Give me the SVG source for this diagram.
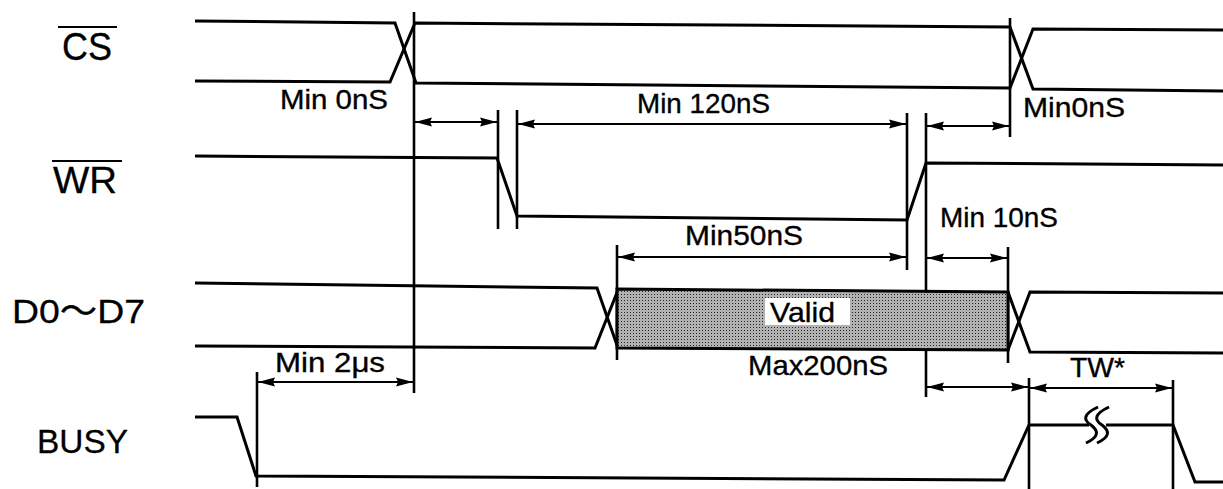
<svg xmlns="http://www.w3.org/2000/svg" width="1223" height="489" viewBox="0 0 1223 489">
<style>
.sig{fill:none;stroke:#000;stroke-width:3;stroke-linejoin:miter}
.vl{stroke:#000;stroke-width:2.6}
.dim{stroke:#000;stroke-width:2.2;marker-start:url(#ah);marker-end:url(#ah)}
.lab{font-family:"Liberation Sans","Noto Sans CJK JP",sans-serif;fill:#000;stroke:#000;stroke-width:0.3}
.t{font-family:"Liberation Sans",Arial,sans-serif;font-size:28px;fill:#000;stroke:#000;stroke-width:0.35}
.ov{stroke:#000;stroke-width:2.2}
</style>
<defs>
<marker id="ah" markerUnits="userSpaceOnUse" markerWidth="18" markerHeight="11" refX="17" refY="5" orient="auto-start-reverse" viewBox="0 0 18 10">
<path d="M0,0.5 L17,5 L0,9.5 L2,5 z" fill="#000"/>
</marker>
<pattern id="dots" patternUnits="userSpaceOnUse" width="3" height="3">
<rect width="3" height="3" fill="#e0e0e0"/>
<rect x="0" y="0" width="1" height="1" fill="#222"/>
<rect x="1.5" y="1.5" width="1" height="1" fill="#222"/>
<rect x="1.5" y="0" width="1" height="1" fill="#888"/>
<rect x="0" y="1.5" width="1" height="1" fill="#888"/>
</pattern>
</defs>
<rect width="1223" height="489" fill="#fff"/>

<g id="label-cs">
<text class="lab" x="62" y="60" font-size="38" textLength="50" lengthAdjust="spacingAndGlyphs">CS</text>
<line class="ov" x1="58" y1="27" x2="117" y2="27"/>
</g>
<g id="label-wr">
<text class="lab" x="53" y="193" font-size="37" textLength="64" lengthAdjust="spacingAndGlyphs">WR</text>
<line class="ov" x1="52" y1="161" x2="122" y2="161"/>
</g>
<g id="label-d">
<text class="lab" x="12" y="323" font-size="34" textLength="133" lengthAdjust="spacingAndGlyphs">D0〜D7</text>
</g>
<g id="label-busy">
<text class="lab" x="37" y="453" font-size="34" textLength="91" lengthAdjust="spacingAndGlyphs">BUSY</text>
</g>

<g id="sig-cs">
<polyline class="sig" points="195,21 395,23 416,83 1010,88 1033,29 1223,30"/>
<polyline class="sig" points="195,81 390,82 415,23 1010,27 1033,89 1223,91"/>
</g>
<g id="sig-wr">
<polyline class="sig" points="195,156 497,158 517,216 907,220 926,163 1223,165"/>
</g>
<g id="sig-d">
<polyline class="sig" points="195,283 597,288 618,348"/>
<polyline class="sig" points="195,346 595,348 618,290"/>
<polyline class="sig" points="1008,292 1030,352 1223,353"/>
<polyline class="sig" points="1008,350 1030,292 1223,293"/>
</g>
<g id="sig-busy">
<polyline class="sig" points="195,417 237,417 256,476 1004,480 1029,425 1089,425"/>
<polyline class="sig" points="1106,425 1173,425 1195,482 1223,482"/>
<path class="sig" stroke-width="2.6" d="M1098,407 C1083,414 1083,420 1091,425 C1099,431 1099,437 1086,443"/>
<path class="sig" stroke-width="2.6" d="M1109,407 C1094,414 1094,420 1102,425 C1110,431 1110,437 1097,443"/>
</g>

<g id="vertical-markers">
<line class="vl" x1="414" y1="12" x2="414" y2="393"/>
<line class="vl" x1="498" y1="110" x2="498" y2="229"/>
<line class="vl" x1="517" y1="110" x2="517" y2="229"/>
<line class="vl" x1="907" y1="113" x2="907" y2="270"/>
<line class="vl" x1="926" y1="113" x2="926" y2="290"/>
<line class="vl" x1="926" y1="350" x2="926" y2="397"/>
<line class="vl" x1="1010" y1="18" x2="1010" y2="137"/>
<line class="vl" x1="617" y1="245" x2="617" y2="360"/>
<line class="vl" x1="1008" y1="247" x2="1008" y2="363"/>
<line class="vl" x1="257" y1="372" x2="257" y2="487"/>
<line class="vl" x1="1029" y1="378" x2="1029" y2="489"/>
<line class="vl" x1="1173" y1="380" x2="1173" y2="489"/>
</g>

<g id="valid-box">
<polygon points="617,289 1008,292 1008,350 617,348" fill="url(#dots)" stroke="#000" stroke-width="3"/>
<rect x="765" y="298" width="85" height="27" fill="#fff"/>
<text class="t" x="770" y="322" textLength="65" lengthAdjust="spacingAndGlyphs">Valid</text>
</g>

<g id="connectors">
<line class="dim" x1="415" y1="122" x2="497" y2="122"/>
<line class="dim" x1="518" y1="124" x2="906" y2="124"/>
<line class="dim" x1="927" y1="126" x2="1009" y2="126"/>
<line class="dim" x1="618" y1="257" x2="906" y2="257"/>
<line class="dim" x1="927" y1="258" x2="1007" y2="258"/>
<line class="dim" x1="258" y1="382" x2="413" y2="382"/>
<line class="dim" x1="927" y1="387" x2="1028" y2="387"/>
<line class="dim" x1="1030" y1="388" x2="1172" y2="388"/>
</g>

<g id="dimension-labels">
<text class="t" x="280" y="109" textLength="108" lengthAdjust="spacingAndGlyphs">Min 0nS</text>
<text class="t" x="637" y="113" textLength="133" lengthAdjust="spacingAndGlyphs">Min 120nS</text>
<text class="t" x="1023" y="117" textLength="102" lengthAdjust="spacingAndGlyphs">Min0nS</text>
<text class="t" x="940" y="227" textLength="118" lengthAdjust="spacingAndGlyphs">Min 10nS</text>
<text class="t" x="685" y="245" textLength="118" lengthAdjust="spacingAndGlyphs">Min50nS</text>
<text class="t" x="748" y="375" textLength="140" lengthAdjust="spacingAndGlyphs">Max200nS</text>
<text class="t" x="1070" y="377" textLength="55" lengthAdjust="spacingAndGlyphs">TW*</text>
<text class="t" x="275" y="372" textLength="110" lengthAdjust="spacingAndGlyphs">Min 2μs</text>
</g>
</svg>
